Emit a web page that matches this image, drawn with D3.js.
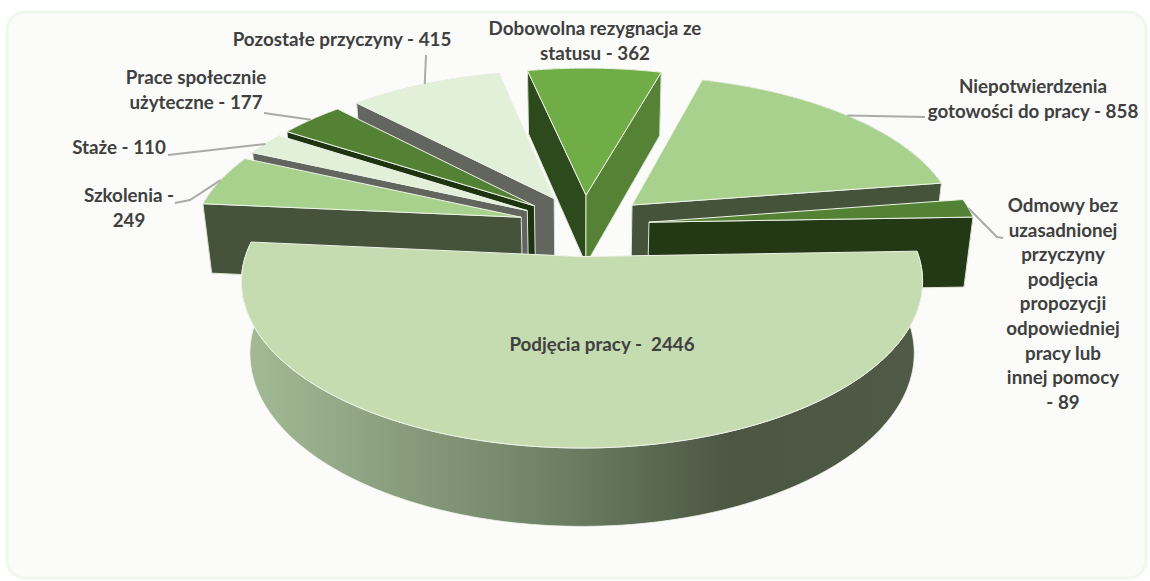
<!DOCTYPE html>
<html lang="pl">
<head>
<meta charset="utf-8">
<script src="https://cdn.jsdelivr.net/npm/d3@7"></script>
<style>
  html, body { margin: 0; background: #fff; }
  svg { display: block; }
  text { font-family: Lato, "Open Sans", sans-serif; font-weight: 700; font-size: 18.8px; fill: #404040; text-anchor: middle; }
</style>
</head>
<body>
<div id="chart"></div>
<script>
// values, clockwise from the left edge of the big slice
const categories = ['Szkolenia', 'Staże', 'Prace społecznie użyteczne', 'Pozostałe przyczyny',
  'Dobowolna rezygnacja ze statusu', 'Niepotwierdzenia gotowości do pracy',
  'Odmowy bez uzasadnionej przyczyny', 'Podjęcia pracy'];
const values = [249, 110, 177, 415, 362, 858, 89, 2446];

const labelLines = [
  ['Szkolenia -', '249'],
  ['Staże - 110'],
  ['Prace społecznie', 'użyteczne - 177'],
  ['Pozostałe przyczyny - 415'],
  ['Dobowolna rezygnacja ze', 'statusu - 362'],
  ['Niepotwierdzenia', 'gotowości do pracy - 858'],
  ['Odmowy bez', 'uzasadnionej', 'przyczyny', 'podjęcia', 'propozycji', 'odpowiedniej', 'pracy lub', 'innej pomocy', '- 89'],
  ['Podjęcia pracy -  2446'],
];

// styles per slice
const topColors = ['#a9d18e', '#e2efd9', '#548235', '#e2efd9', '#70ad47', '#a9d18e', '#548235', '#c5dcb0'];
const startFace = ['#44533a', '#62665f', '#1e3310', '#62665f', '#2d4a1c', '#44533a', '#233815', '#4b5643'];
const endFace = ['#8a9a80', '#9a9d96', '#2d4a1c', '#9a9d96', '#558235', '#44533a', '#233815', '#a4ba96'];

// label layout: text centre, first baseline, line step, leader path end
const labelX = [129, 119, 196, 342, 595, 1033, 1063, 602];
const labelY = [202, 154, 84, 46, 35, 93, 212, 351];
const lineStep = 24.6;
const leaderEnds = [[[190, 200], [175, 203]], [[168, 155]], [[264, 113]], [[426, 55]], null, [[925, 117]], [[997, 237], [1003, 238]], null];

const width = 1150, height = 581;

const svg = d3.select('#chart').append('svg').attr('width', width).attr('height', height);

const defs = svg.append('defs');
const grad = defs.append('linearGradient').attr('id', 'wallGrad')
  .attr('gradientUnits', 'userSpaceOnUse').attr('x1', 245).attr('x2', 925).attr('y1', 0).attr('y2', 0);
[[0, '#a4ba96'], [0.44, '#708366'], [0.715, '#4b5643'], [1, '#505b47']].forEach(([o, c]) =>
  grad.append('stop').attr('offset', o).attr('stop-color', c));

svg.append('rect')
  .attr('x', 7).attr('y', 12).attr('width', 1139).attr('height', 566).attr('rx', 18)
  .attr('fill', '#fbfcf9').attr('stroke', '#f0f7ec').attr('stroke-width', 3);

// 3d projection of the pie: x,y on the unit disc (y = away from viewer), z = 0 top, 1 bottom
const cx = 584, cy = 225, A = 327, B = 153.5, k = 0.145, m = 0.024, D = 72;
const explode = 0.2;

function project(x, y, z) {
  const w = 1 + k * y + m * z;
  return [cx + A * x / w, cy + (-B * y + D * z) / w];
}

const pie = d3.pie().sort(null)
  .startAngle(-84.8 * Math.PI / 180)
  .endAngle((360 - 84.8) * Math.PI / 180);

const slices = pie(values).map((d, i) => {
  const mid = (d.startAngle + d.endAngle) / 2;
  return { ...d, i, mid, ox: explode * Math.sin(mid), oy: explode * Math.cos(mid) };
});

const line = d3.line();

function arcPoints(s, z) {
  const n = Math.max(4, Math.ceil((s.endAngle - s.startAngle) / 0.02));
  return d3.range(n + 1).map((j) => {
    const a = s.startAngle + (s.endAngle - s.startAngle) * j / n;
    return project(s.ox + Math.sin(a), s.oy + Math.cos(a), z);
  });
}

function cutFace(s, a) {
  const p = (r, z) => project(s.ox + r * Math.sin(a), s.oy + r * Math.cos(a), z);
  return [p(0, 0), p(1, 0), p(1, 1), p(0, 1)];
}

const chart = svg.append('g');

// back slices first
d3.sort(slices, (s) => -Math.cos(s.mid)).forEach((s) => {
  const g = chart.append('g');
  const big = s.i === values.length - 1;

  g.append('path')
    .attr('d', line([...arcPoints(s, 0), ...arcPoints(s, 1).reverse()]) + 'Z')
    .attr('fill', big ? 'url(#wallGrad)' : startFace[s.i])
    .attr('stroke', big ? '#f2f6ee' : 'none').attr('stroke-width', 0.8);

  // cut faces, only when they look at the viewer
  [[s.startAngle, startFace[s.i], -1], [s.endAngle, endFace[s.i], 1]].forEach(([a, color, side]) => {
    const face = cutFace(s, a);
    if (side * d3.polygonArea(face) > 0) return;
    g.append('path').attr('d', line(face) + 'Z')
      .attr('fill', color).attr('stroke', '#dfe5d8').attr('stroke-width', 1);
  });

  const apex = project(s.ox, s.oy, 0);
  g.append('path').attr('d', line([apex, ...arcPoints(s, 0)]) + 'Z')
    .attr('fill', topColors[s.i]).attr('stroke', '#eef3e8').attr('stroke-width', 1);
});

// leader lines start on the slice's outer arc
slices.forEach((s) => {
  if (!leaderEnds[s.i]) return;
  const start = project(s.ox + Math.sin(s.mid), s.oy + Math.cos(s.mid), 0);
  svg.append('path').attr('d', line([start, ...leaderEnds[s.i]]))
    .attr('fill', 'none').attr('stroke', '#a9abaa').attr('stroke-width', 2);
});

labelLines.forEach((lines, i) => {
  const t = svg.append('text').attr('x', labelX[i]).attr('y', labelY[i]).attr('xml:space', 'preserve');
  lines.forEach((l, j) => {
    t.append('tspan').attr('x', labelX[i]).attr('y', labelY[i] + j * lineStep).text(l);
  });
});
</script>
</body>
</html>
